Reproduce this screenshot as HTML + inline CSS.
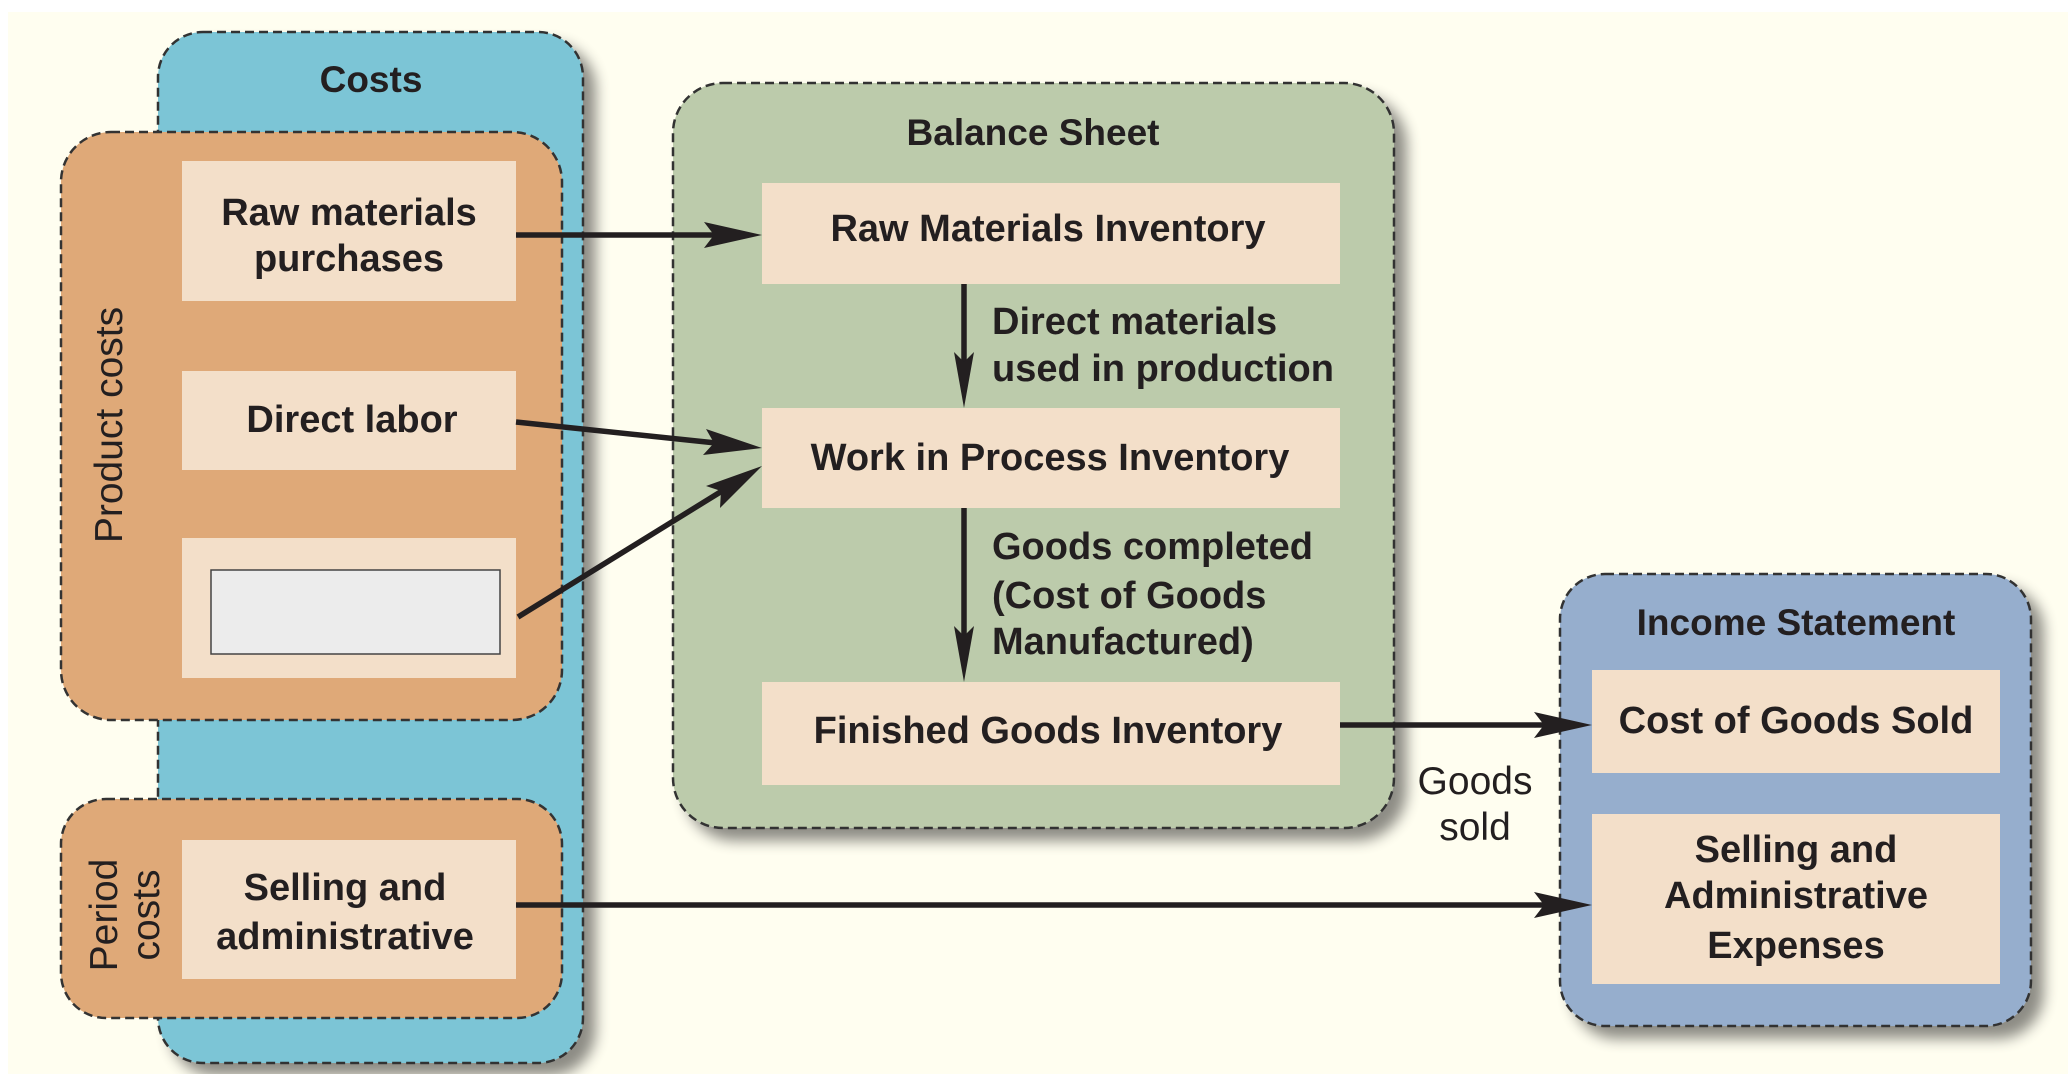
<!DOCTYPE html>
<html><head><meta charset="utf-8"><style>
html,body{margin:0;padding:0;background:#fff;}
svg{display:block;}
text{font-family:"Liberation Sans",Arial,sans-serif;fill:#231f20;}
.b{font-weight:bold;font-size:38px;}
</style></head><body>
<svg width="2068" height="1074" viewBox="0 0 2068 1074" xmlns="http://www.w3.org/2000/svg">
<defs>
<filter id="sh" x="-10%" y="-10%" width="130%" height="130%">
<feGaussianBlur in="SourceAlpha" stdDeviation="7"/>
<feOffset dx="12" dy="12" result="o"/>
<feComponentTransfer><feFuncA type="linear" slope="0.45"/></feComponentTransfer>
<feMerge><feMergeNode/><feMergeNode in="SourceGraphic"/></feMerge>
</filter>
</defs>
<rect x="0" y="0" width="2068" height="1074" fill="#fffef0"/>
<rect x="0" y="0" width="2068" height="12" fill="#fff"/>
<rect x="0" y="0" width="8" height="1074" fill="#fff"/>

<g stroke="#333" stroke-width="2.5" stroke-dasharray="9,5" filter="url(#sh)">
<rect x="158" y="32" width="425" height="1031" rx="45" fill="#7cc5d6"/>
<rect x="673" y="83" width="721" height="745" rx="50" fill="#bccbab"/>
<rect x="1560" y="574" width="471" height="452" rx="45" fill="#96aecd"/>
</g>
<g stroke="#333" stroke-width="2.5" stroke-dasharray="9,5">
<rect x="61" y="132" width="501" height="588" rx="50" fill="#dfa978"/>
<rect x="61" y="799" width="501" height="219" rx="45" fill="#dfa978"/>
</g>

<g fill="#f3dfc9">
<rect x="182" y="161" width="334" height="140"/>
<rect x="182" y="371" width="334" height="99"/>
<rect x="182" y="538" width="334" height="140"/>
<rect x="182" y="840" width="334" height="139"/>
<rect x="762" y="183" width="578" height="101"/>
<rect x="762" y="408" width="578" height="100"/>
<rect x="762" y="682" width="578" height="103"/>
<rect x="1592" y="670" width="408" height="103"/>
<rect x="1592" y="814" width="408" height="170"/>
</g>
<rect x="211" y="570" width="289" height="84" fill="#ececec" stroke="#444" stroke-width="1.5"/>

<g stroke="#231f20" stroke-width="5.5" fill="none">
<line x1="516" y1="235" x2="720" y2="235"/>
<line x1="516" y1="422" x2="716" y2="443"/>
<line x1="518" y1="617" x2="722" y2="491"/>
<line x1="964" y1="284" x2="964" y2="365"/>
<line x1="964" y1="508" x2="964" y2="640"/>
<line x1="1340" y1="725" x2="1550" y2="725"/>
<line x1="516" y1="905" x2="1550" y2="905"/>
</g>
<g fill="#231f20">
<polygon points="762,235 704,222 714,235 704,248"/>
<polygon points="762,448 703,455 714,443 706,429"/>
<polygon points="762,466 720,508 721,491 706,486"/>
<polygon points="964,408 954,352 964,362 974,352"/>
<polygon points="964,682 954,626 964,636 974,626"/>
<polygon points="1592,725 1534,712 1544,725 1534,738"/>
<polygon points="1592,905 1534,892 1544,905 1534,918"/>
</g>

<g class="b" text-anchor="middle">
<text x="371" y="92" style="font-size:37px">Costs</text>
<text x="1033" y="145" style="font-size:37px">Balance Sheet</text>
<text x="1796" y="635" style="font-size:37px">Income Statement</text>
<text x="349" y="225">Raw materials</text>
<text x="349" y="271">purchases</text>
<text x="352" y="432">Direct labor</text>
<text x="345" y="900">Selling and</text>
<text x="345" y="949">administrative</text>
<text x="1048" y="241">Raw Materials Inventory</text>
<text x="1050" y="470">Work in Process Inventory</text>
<text x="1048" y="743">Finished Goods Inventory</text>
<text x="1796" y="733">Cost of Goods Sold</text>
<text x="1796" y="862">Selling and</text>
<text x="1796" y="908">Administrative</text>
<text x="1796" y="958">Expenses</text>
</g>
<g class="b">
<text x="992" y="334">Direct materials</text>
<text x="992" y="381">used in production</text>
<text x="992" y="559">Goods completed</text>
<text x="992" y="608">(Cost of Goods</text>
<text x="992" y="654">Manufactured)</text>
</g>
<g style="font-size:39px" text-anchor="middle">
<text x="122" y="425" transform="rotate(-90 122 425)">Product costs</text>
<text x="117" y="915" transform="rotate(-90 117 915)">Period</text>
<text x="159" y="915" transform="rotate(-90 159 915)">costs</text>
<text x="1475" y="794">Goods</text>
<text x="1475" y="840">sold</text>
</g>
</svg>
</body></html>
